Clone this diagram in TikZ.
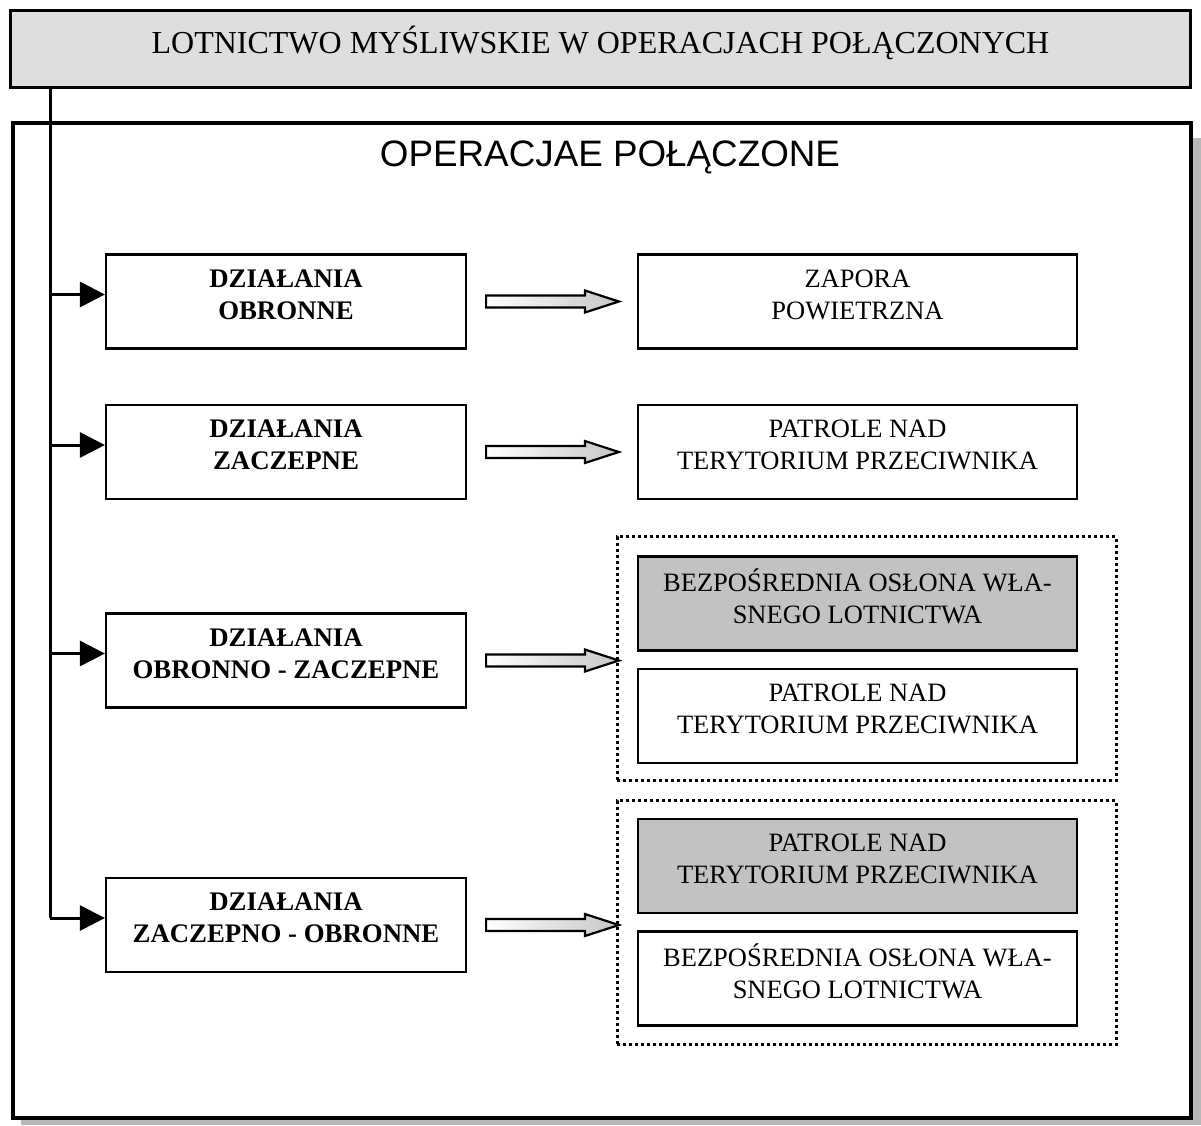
\documentclass[tikz,border=0pt]{standalone}
\usepackage{fontspec}
\setmainfont{Liberation Serif}
\newfontfamily\headsans{Liberation Sans}
\usetikzlibrary{arrows.meta,calc}

\definecolor{bandgray}{gray}{0.87}
\definecolor{boxgray}{gray}{0.76}
\definecolor{shadowgray}{gray}{0.72}

% struts that fix the first-line height and last-line depth of box texts
\newcommand{\toplinestrut}{\rule{0pt}{20pt}}
\newcommand{\botlinestrut}{\rule[-14.5pt]{0pt}{1pt}}

\begin{document}
\begin{tikzpicture}[x=1pt,y=-1pt,
  boxtext/.style={execute at begin node=\toplinestrut,execute at end node=\botlinestrut},
  leftbox/.style={draw,line width=2.2pt,minimum width=360pt,minimum height=94pt,boxtext,
    align=center,inner sep=0pt,font=\fontsize{26.8}{32}\selectfont\bfseries},
  rightbox/.style={draw,line width=2.2pt,minimum width=439pt,minimum height=94pt,boxtext,
    align=center,inner sep=0pt,font=\fontsize{26.5}{32}\selectfont},
  tinted/.style={fill=boxgray},
  groupbox/.style={draw,line width=3pt,dash pattern=on 3pt off 3pt,
    minimum width=499pt,minimum height=244pt,inner sep=0pt},
  feed/.style={line width=3pt,-{Triangle[length=25pt,width=25pt]}},
  hollow/.style={draw,line width=2.2pt,line join=miter,left color=white,right color=gray!45},
]
\useasboundingbox (0,0) rectangle (1201,1125);

% drop shadow and outer frame
\fill[shadowgray] (21,138) rectangle (1201,1125);
\draw[line width=3.5pt,fill=white] (13,123) rectangle (1191,1118);

% heading band
\node[draw,line width=3pt,fill=bandgray,minimum width=1180pt,minimum height=77pt,inner sep=0pt,
  text height=21pt,text depth=12pt,
  font=\fontsize{32}{36}\selectfont] (top) at (600.5,49) {LOTNICTWO MYŚLIWSKIE W OPERACJACH POŁĄCZONYCH};

\node[font=\headsans\fontsize{36.8}{40}\selectfont] (sub) at (610,157) {OPERACJAE POŁĄCZONE};

% left column
\node[leftbox] (l1) at (286,301.5) {DZIAŁANIA\\OBRONNE};
\node[leftbox] (l2) at (286,452) {DZIAŁANIA\\ZACZEPNE};
\node[leftbox] (l3) at (286,660.5) {DZIAŁANIA\\OBRONNO - ZACZEPNE};
\node[leftbox] (l4) at (286,925) {DZIAŁANIA\\ZACZEPNO - OBRONNE};

% right column
\node[rightbox] (r1) at (857.5,301.5) {ZAPORA\\POWIETRZNA};
\node[rightbox] (r2) at (857.5,452) {PATROLE NAD\\TERYTORIUM PRZECIWNIKA};

\node[groupbox] (g3) at (866.5,658.5) {};
\node[rightbox,tinted] (r3a) at (857.5,603.5) {BEZPOŚREDNIA OSŁONA WŁA-\\SNEGO LOTNICTWA};
\node[rightbox] (r3b) at (857.5,716) {PATROLE NAD\\TERYTORIUM PRZECIWNIKA};

\node[groupbox] (g4) at (866.5,922.5) {};
\node[rightbox,tinted] (r4a) at (857.5,866) {PATROLE NAD\\TERYTORIUM PRZECIWNIKA};
\node[rightbox] (r4b) at (857.5,978.5) {BEZPOŚREDNIA OSŁONA WŁA-\\SNEGO LOTNICTWA};

% feed line from the heading band into each left box
\coordinate (spine) at (top.south -| 50,0);
\coordinate (e1) at ($(l1.west)+(0,-7)$);
\coordinate (e2) at ($(l2.west)+(0,-7)$);
\coordinate (e3) at ($(l3.west)+(0,-7)$);
\coordinate (e4) at ($(l4.west)+(0,-7)$);
\draw[line width=3pt] (spine) -- (spine |- e4);
\draw[feed] (spine |- e4) -- (e4);
\draw[feed] (spine |- e1) -- (e1);
\draw[feed] (spine |- e2) -- (e2);
\draw[feed] (spine |- e3) -- (e3);

% hollow block arrows from each left box towards its outcome column
\foreach \src/\dst in {l1/r1,l2/r2,l3/r3a,l4/r4a}{
  \coordinate (a) at ($(\src.east)+(19,0)$);
  \coordinate (tip) at ($(\dst.west |- \src.east)+(-18,0)$);
  \path[hollow] ($(a)+(0,-6)$) -- ($(tip)+(-34,-6)$) -- ($(tip)+(-34,-11)$)
     -- (tip) -- ($(tip)+(-34,11)$) -- ($(tip)+(-34,6)$)
     -- ($(a)+(0,6)$) -- cycle;
}
\end{tikzpicture}
\end{document}
